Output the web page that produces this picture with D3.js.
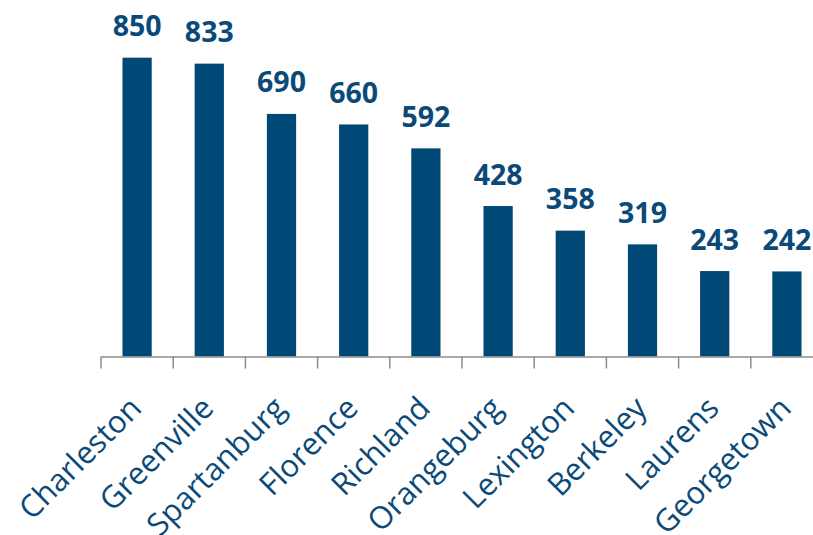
<!DOCTYPE html>
<html>
<head>
<meta charset="utf-8">
<script src="https://cdn.jsdelivr.net/npm/d3@7"></script>
<style>
  html, body { margin: 0; padding: 0; background: #fff; }
  svg { display: block; }
</style>
</head>
<body>
<svg id="chart" width="813" height="535"></svg>
<script>
const categories = ["Charleston", "Greenville", "Spartanburg", "Florence", "Richland", "Orangeburg", "Lexington", "Berkeley", "Laurens", "Georgetown"];
const values = [850, 833, 690, 660, 592, 428, 358, 319, 243, 242];

const W = 813, H = 535;
const svg = d3.select("#chart");
const navy = "#004876";
const textNavy = "#0b4a78";

const x = d3.scaleBand().domain(categories).range([101, 823]).padding(0);
const y = d3.scaleLinear().domain([0, 1014]).range([356.5, 0]);
const barW = x.bandwidth() * 0.405;

// bars
svg.append("g").selectAll("rect")
  .data(categories)
  .join("rect")
  .attr("x", (d) => x(d) + x.bandwidth() / 2 - barW / 2)
  .attr("y", (d, i) => y(values[i]))
  .attr("width", barW)
  .attr("height", (d, i) => y(0) - y(values[i]))
  .attr("fill", navy);

// value labels
svg.append("g").selectAll("text")
  .data(categories)
  .join("text")
  .attr("x", (d) => x(d) + x.bandwidth() / 2)
  .attr("y", (d, i) => y(values[i]) - 21.5)
  .attr("text-anchor", "middle")
  .attr("font-family", "'Open Sans', sans-serif")
  .attr("font-weight", 700)
  .attr("font-size", 28.5)
  .attr("fill", textNavy)
  .text((d, i) => values[i]);

// axis line
const axis = svg.append("g");
axis.append("line")
  .attr("x1", x.range()[0]).attr("x2", x.range()[1])
  .attr("y1", y(0) + 0.5).attr("y2", y(0) + 0.5)
  .attr("stroke", "#8c8c8c").attr("stroke-width", 1.5);

const tickPos = categories.map((d) => x(d)).concat([x.range()[1]]);
axis.selectAll("line.tick")
  .data(tickPos)
  .join("line")
  .attr("class", "tick")
  .attr("x1", (d) => d).attr("x2", (d) => d)
  .attr("y1", y(0)).attr("y2", y(0) + 12)
  .attr("stroke", "#8c8c8c").attr("stroke-width", 1.5);

// category labels
axis.selectAll("text.cat")
  .data(categories)
  .join("text")
  .attr("class", "cat")
  .attr("transform", (d) => `translate(${x(d) + x.bandwidth() / 2 + 6},${410}) rotate(-45)`)
  .attr("text-anchor", "end")
  .attr("font-family", "'Open Sans', sans-serif")
  .attr("font-size", 31)
  .attr("fill", textNavy)
  .text((d) => d);
</script>
</body>
</html>
